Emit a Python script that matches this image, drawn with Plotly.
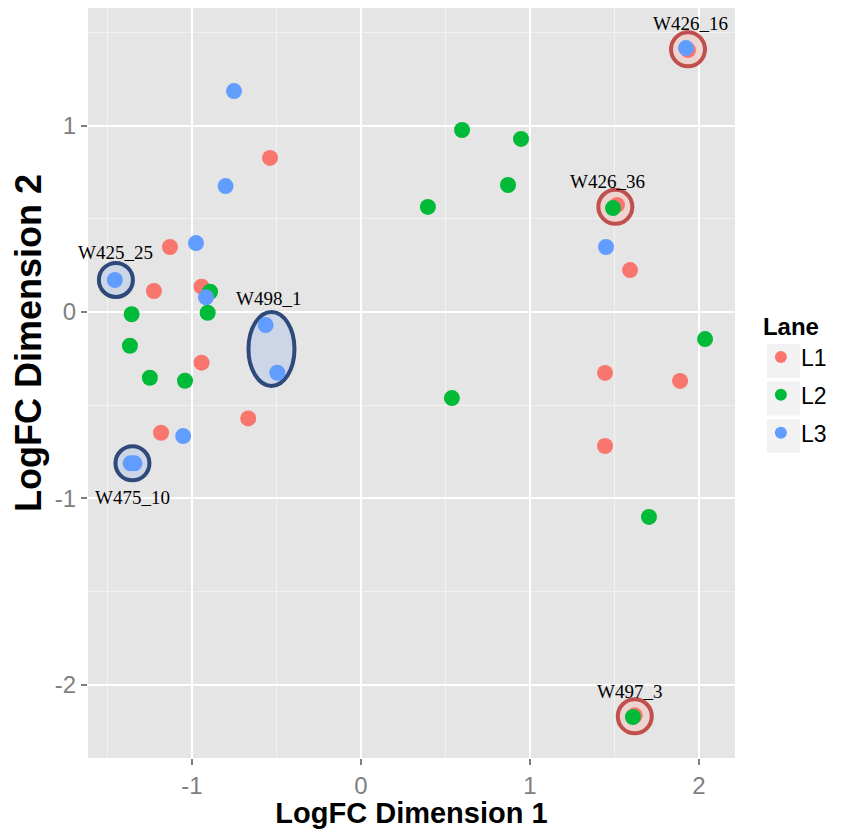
import plotly.graph_objects as go

# ---- data ----
l1_x = [-0.538, -1.130, -1.225, -0.943, -0.943, -0.667, -1.183, 1.592, 1.444, 1.444, 1.888, 1.935, 1.515, 1.620]
l1_y = [0.827, 0.349, 0.113, 0.136, -0.272, -0.571, -0.648, 0.225, -0.327, -0.719, -0.370, 1.406, 0.575, -2.165]

l2_x = [0.598, 0.947, 0.870, 0.396, 1.491, 2.036, 0.538, 1.704, 1.609, -1.357, -1.367, -1.249, -1.041, -0.907, -0.893]
l2_y = [0.977, 0.929, 0.682, 0.564, 0.558, -0.145, -0.462, -1.100, -2.174, -0.012, -0.181, -0.353, -0.369, -0.004, 0.109]

l3_x = [-0.751, -0.801, -0.976, -0.917, -1.456, -0.564, -0.495, -1.052, -1.363, -1.340, 1.450, 1.923]
l3_y = [1.186, 0.676, 0.370, 0.079, 0.172, -0.070, -0.326, -0.666, -0.812, -0.812, 0.349, 1.417]

lanes = ["L1", "L2", "L3"]
lane_colors = ["#F8766D", "#00BA38", "#619CFF"]

# highlighted samples: label, centre x, centre y, group
hl_names = ["W426_16", "W426_36", "W497_3", "W425_25", "W475_10"]
hl_x = [1.935, 1.505, 1.620, -1.450, -1.352]
hl_y = [1.410, 0.565, -2.170, 0.172, -0.812]
hl_kind = ["red", "red", "red", "blue", "blue"]
hl_label_dy = [26, 25, 25, 27, -34]
hl_label_dx = [2, -8, -5, 0, 0]

ell_name = "W498_1"
ell_x = [-0.564, -0.495]
ell_y = [-0.070, -0.326]

x_ticks = [-1, 0, 1, 2]
y_ticks = [-2, -1, 0, 1]

SANS = "Liberation Sans, Arial, sans-serif"
SERIF = "Liberation Serif, Times New Roman, serif"

fig = go.Figure()
for name, xs, ys, col in zip(lanes, [l1_x, l2_x, l3_x], [l1_y, l2_y, l3_y], lane_colors):
    fig.add_trace(go.Scatter(
        x=xs, y=ys, mode="markers", name=name, legendgroup=name,
        marker=dict(color=col, size=16, line=dict(width=0)),
    ))

ring = {"red": ("#C0504D", "rgba(240,205,200,0.75)"),
        "blue": ("#2E4A7A", "rgba(200,212,232,0.85)")}

shapes = []
annos = []
for n, cx, cy, k, dy, dx in zip(hl_names, hl_x, hl_y, hl_kind, hl_label_dy, hl_label_dx):
    lc, fc = ring[k]
    shapes.append(dict(type="circle", xref="x", yref="y", xsizemode="pixel", ysizemode="pixel",
                       xanchor=cx, yanchor=cy, x0=-17, x1=17, y0=-17, y1=17,
                       line=dict(color=lc, width=4), fillcolor=fc, layer="between"))
    annos.append(dict(x=cx, y=cy, text=n, showarrow=False, yshift=dy, xshift=dx,
                      font=dict(family=SERIF, size=19, color="black")))

ecx = sum(ell_x) / len(ell_x)
ecy = sum(ell_y) / len(ell_y)
shapes.append(dict(type="circle", xref="x", yref="y", xsizemode="pixel", ysizemode="pixel",
                   xanchor=ecx, yanchor=ecy, x0=-23, x1=23, y0=-37, y1=37,
                   line=dict(color="#2E4A7A", width=4), fillcolor="rgba(200,212,232,0.85)", layer="between"))
annos.append(dict(x=ecx, y=ecy, text=ell_name, showarrow=False, yshift=50, xshift=-3,
                  font=dict(family=SERIF, size=19, color="black")))

# y-axis title as annotation (sits a little above the panel centre in the reference)
annos.append(dict(xref="paper", yref="paper", x=(28 - 88) / 647, y=(758 - 343) / 750,
                  xanchor="center", yanchor="middle", textangle=-90, showarrow=False,
                  text="<b>LogFC Dimension 2</b>", font=dict(family=SANS, size=36, color="black")))

# legend key backgrounds (ggplot style)
for i in range(len(lanes)):
    top = 344 + i * 37.5
    shapes.append(dict(type="rect", xref="paper", yref="paper", layer="below",
                       x0=(767 - 88) / 647, x1=(800 - 88) / 647,
                       y0=(758 - (top + 34)) / 750, y1=(758 - top) / 750,
                       line=dict(width=0), fillcolor="#F2F2F2"))

axis_common = dict(
    showgrid=True, gridcolor="white", gridwidth=2, zeroline=False,
    ticks="outside", ticklen=6, tickwidth=1.5, tickcolor="#7F7F7F",
    tickfont=dict(family=SANS, size=24, color="#7F7F7F"),
    showline=False,
    minor=dict(showgrid=True, gridcolor="#F2F2F2", gridwidth=1, dtick=0.5, ticks=""),
)

fig.update_layout(
    width=842, height=829,
    margin=dict(l=88, r=107, t=8, b=71),
    paper_bgcolor="white", plot_bgcolor="#E5E5E5",
    xaxis=dict(range=[-1.615, 2.213], tickvals=x_ticks, ticktext=[str(v) for v in x_ticks],
               title=dict(text="<b>LogFC Dimension 1</b>", standoff=2,
                          font=dict(family=SANS, size=29, color="black")),
               **axis_common),
    yaxis=dict(range=[-2.394, 1.632], tickvals=y_ticks, ticktext=[str(v) for v in y_ticks],
               **axis_common),
    shapes=shapes,
    annotations=annos,
    legend=dict(title=dict(text="<b>Lane</b>", font=dict(family=SANS, size=24, color="black")),
                font=dict(family=SANS, size=23, color="black"),
                x=1.04, xanchor="left", y=0.605, yanchor="top", tracegroupgap=5,
                bgcolor="rgba(0,0,0,0)", itemsizing="constant"),
    showlegend=True,
)

fig.write_html("out.html")
